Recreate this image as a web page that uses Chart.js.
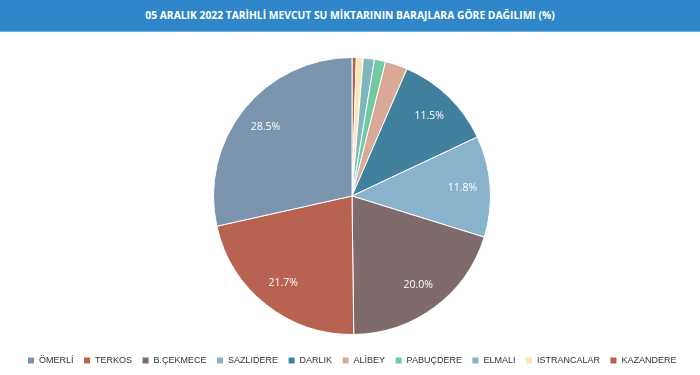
<!DOCTYPE html>
<html>
<head>
<meta charset="utf-8">
<script src="https://cdn.jsdelivr.net/npm/chart.js@4"></script>
<style>
  html, body { margin: 0; padding: 0; background: #fff; }
  #wrap { position: relative; width: 700px; height: 375px; }
  #title {
    position: absolute; left: 0; top: 0; width: 700px; height: 31px;
    background: #2f87c9; color: #fff; text-align: center;
    font: bold 10.3px "Open Sans", sans-serif; line-height: 31px;
    border-bottom: 1px solid #6aaee0;
  }
  canvas { position: absolute; left: 0; top: 0; }
</style>
</head>
<body>
<div id="wrap">
  <canvas id="myChart" width="700" height="375"></canvas>
  <div id="title">05 ARALIK 2022 TARİHLİ MEVCUT SU MİKTARININ BARAJLARA GÖRE DAĞILIMI (%)</div>
</div>
<script>
// drawn clockwise from the top, legend shown in reverse
const dams = ['KAZANDERE', 'ISTRANCALAR', 'ELMALI', 'PABUÇDERE', 'ALİBEY',
              'DARLIK', 'SAZLIDERE', 'B.ÇEKMECE', 'TERKOS', 'ÖMERLİ'];
const shares = [0.5, 0.8, 1.3, 1.3, 2.6, 11.5, 11.8, 20.0, 21.7, 28.5];
const colors = ['#b5604f', '#fde5b4', '#80b6be', '#71cba2', '#dba997',
                '#42819e', '#89b2cd', '#7f6b6b', '#b86352', '#7b95ae'];

const sliceLabels = {
    id: 'sliceLabels',
    afterDatasetsDraw(chart) {
        const ctx = chart.ctx;
        const meta = chart.getDatasetMeta(0);
        ctx.save();
        ctx.fillStyle = '#fff';
        ctx.font = '10.5px "Open Sans", sans-serif';
        ctx.textAlign = 'center';
        ctx.textBaseline = 'middle';
        meta.data.forEach((arc, i) => {
            if (shares[i] < 5) return;
            const mid = (arc.startAngle + arc.endAngle) / 2;
            const r = arc.outerRadius * 0.8;
            ctx.fillText(shares[i].toFixed(1) + '%', arc.x + Math.cos(mid) * r, arc.y + Math.sin(mid) * r);
        });
        ctx.restore();
    }
};

const ctx = document.getElementById('myChart').getContext('2d');
new Chart(ctx, {
    type: 'pie',
    data: {
        labels: dams,
        datasets: [{
            data: shares,
            backgroundColor: colors,
            borderColor: '#fff',
            borderWidth: 1
        }]
    },
    options: {
        responsive: false,
        animation: false,
        layout: { padding: { top: 57, left: 4, bottom: 0 } },
        plugins: {
            title: { display: false },
            tooltip: { enabled: false },
            legend: {
                position: 'bottom',
                reverse: true,
                // empty legend title just adds space above the items
                title: { display: true, text: ' ', font: { size: 1, lineHeight: 1 }, padding: { top: 10, bottom: 0 } },
                labels: {
                    boxWidth: 7,
                    boxHeight: 7,
                    padding: 10,
                    color: '#333',
                    font: { family: '"Liberation Sans", Arial, sans-serif', size: 9 }
                }
            }
        }
    },
    plugins: [sliceLabels]
});
</script>
</body>
</html>
